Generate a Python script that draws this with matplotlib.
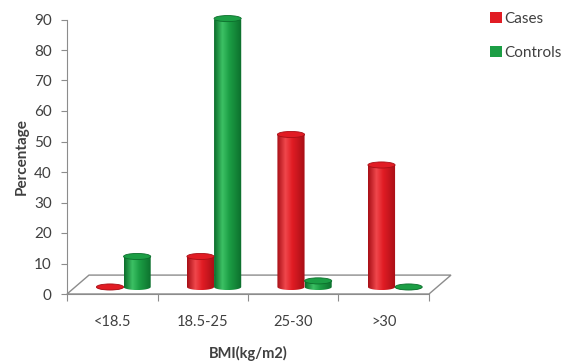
import numpy as np
import matplotlib
matplotlib.use("Agg")
import matplotlib.pyplot as plt
from matplotlib.patches import Polygon, Ellipse, PathPatch, Patch
from matplotlib.path import Path
from matplotlib.colors import LinearSegmentedColormap

# BMI distribution (%) for cases and controls
categories = ["<18.5", "18.5-25", "25-30", ">30"]
cases = [0, 10, 50, 40]
controls = [10, 88, 2, 0]

plt.rcParams['font.family'] = ['Lato', 'DejaVu Sans']
text_col = '#404040'
axis_col = '#8c8c8c'

fig = plt.figure(figsize=(5.66, 3.61), dpi=100)
ax = fig.add_axes([67 / 566, 67 / 361, 362 / 566, 274.5 / 361])

# 3-D look: floor depth and cylinder sizes in data units
depth_x, depth_y = 0.243, 6.2
bar_w = 0.30
base = 2.3
ry = 1.0


def cylinder(ax, xc, value, dark, mid, light):
    x0, x1 = xc - bar_w / 2, xc + bar_w / 2
    top = base + value
    t = np.linspace(np.pi, 2 * np.pi, 40)
    bottom = np.column_stack([xc + bar_w / 2 * np.cos(t), base + ry * np.sin(t)])
    verts = np.vstack([[x0, top], bottom, [x1, top], [x0, top]])
    codes = [Path.MOVETO] + [Path.LINETO] * (len(verts) - 2) + [Path.CLOSEPOLY]
    body = PathPatch(Path(verts, codes), facecolor='none', edgecolor='none')
    ax.add_patch(body)
    cmap = LinearSegmentedColormap.from_list(
        'cyl', [(0, dark), (0.3, light), (0.55, mid), (1, dark)])
    grad = np.linspace(0, 1, 64).reshape(1, -1)
    im = ax.imshow(grad, cmap=cmap, extent=(x0, x1, base - ry, top),
                   aspect='auto', origin='lower', zorder=3)
    im.set_clip_path(body)
    ax.add_patch(Ellipse((xc, top), bar_w, 2 * ry, facecolor=mid,
                         edgecolor=dark, lw=0.6, zorder=4, clip_on=False))


# floor
floor = Polygon([[0, 0], [depth_x, depth_y], [4 + depth_x, depth_y], [4, 0]],
                closed=True, facecolor='white', edgecolor=axis_col, lw=1.0,
                zorder=1, clip_on=False)
ax.add_patch(floor)

for i in range(len(categories)):
    cylinder(ax, i + 0.475, cases[i], '#a80f16', '#e11c24', '#f0474c')
    cylinder(ax, i + 0.775, controls[i], '#0c6e2c', '#1c9e45', '#3cc164')

ax.set_xlim(0, 4)
ax.set_ylim(0, 90)

for s in ['top', 'right']:
    ax.spines[s].set_visible(False)
ax.spines['left'].set_color(axis_col)
ax.spines['bottom'].set_color(axis_col)

ax.set_yticks(range(0, 91, 10))
ax.tick_params(axis='y', colors=axis_col, labelcolor=text_col, labelsize=11,
               length=4, pad=7)
ax.set_xticks(range(0, 5))
ax.set_xticklabels([])
ax.set_xticks(np.arange(0.5, 4, 1), minor=True)
ax.set_xticklabels(categories, minor=True)
ax.tick_params(axis='x', which='major', colors=axis_col, length=5)
ax.tick_params(axis='x', which='minor', length=0, labelcolor=text_col,
               labelsize=10.5, pad=15)

ax.set_ylabel('Percentage', fontsize=11, fontweight='bold', color=text_col,
              labelpad=4)
ax.set_xlabel('BMI(kg/m2)', fontsize=10.5, fontweight='bold', color=text_col,
              labelpad=12)

handles = [Patch(facecolor='#e11c24', label='Cases'),
           Patch(facecolor='#1c9e45', label='Controls')]
fig.legend(handles=handles, loc='upper left', bbox_to_anchor=(476 / 566, 1 + 2 / 361),
           frameon=False, handlelength=0.8, handleheight=0.8, handletextpad=0.15,
           labelspacing=1.3, fontsize=11, labelcolor=text_col)

fig.savefig('out.png', dpi=100)
